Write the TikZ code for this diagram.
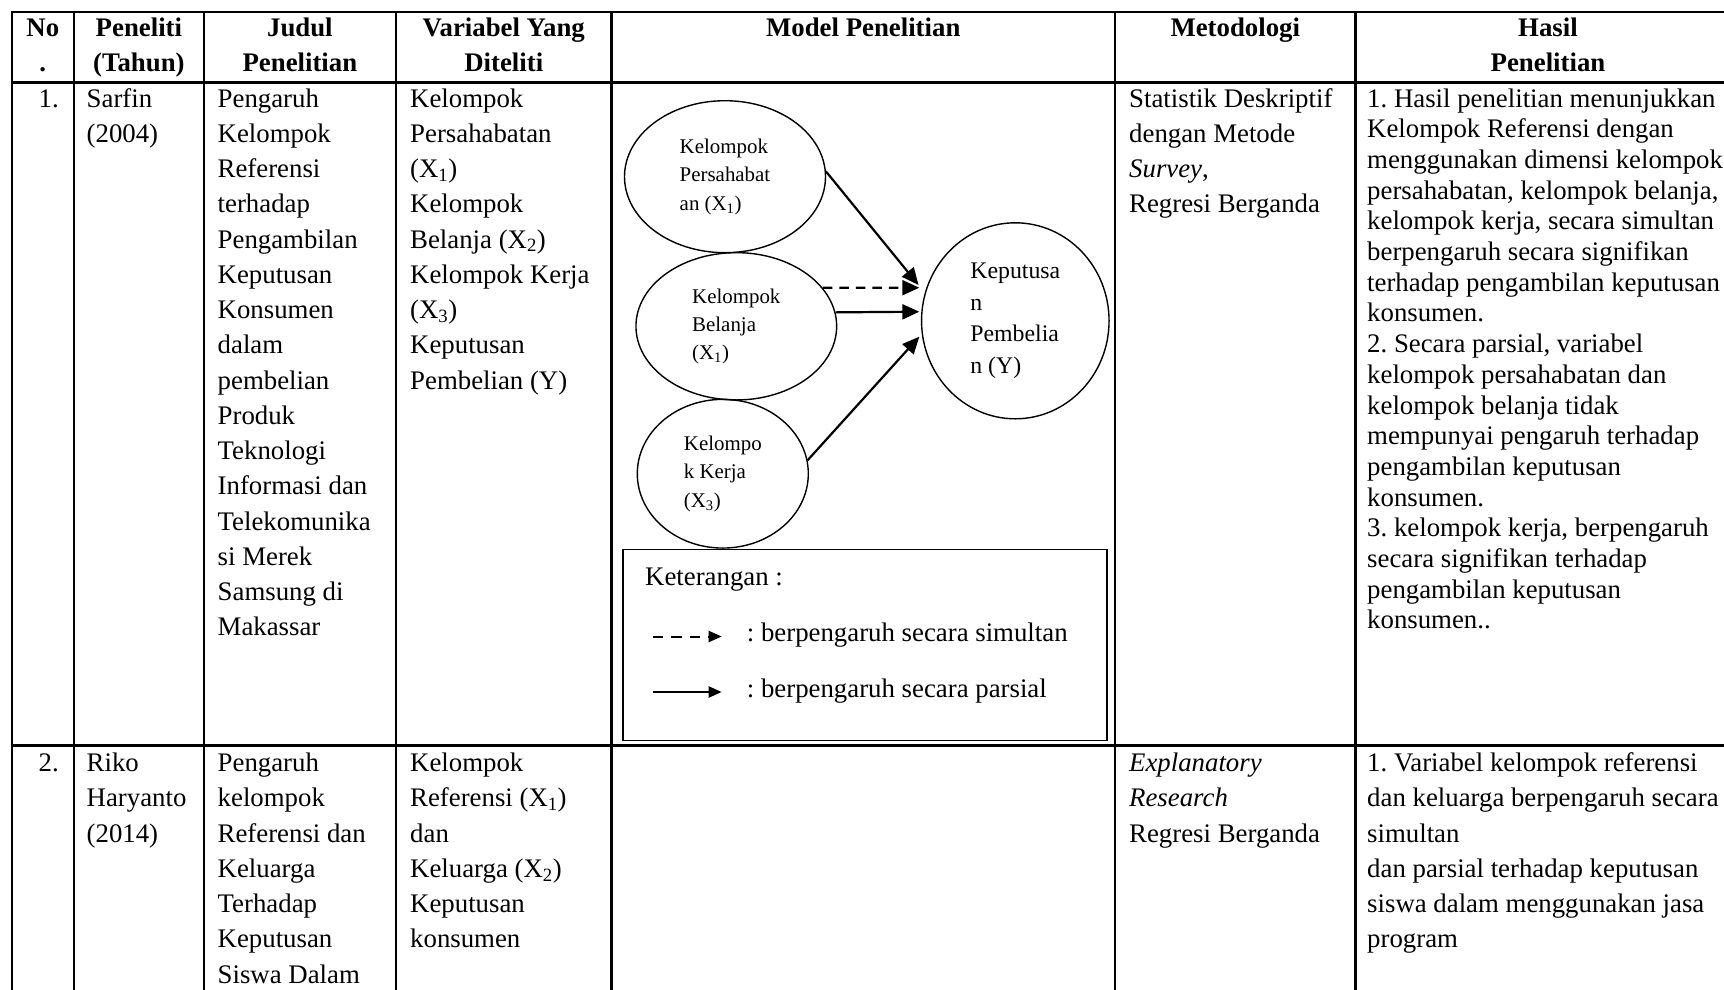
\documentclass[tikz,border=0pt]{standalone}
\usepackage{fontspec}
\setmainfont{Liberation Serif}
\usetikzlibrary{shapes.geometric,arrows.meta}
\frenchspacing

% multi-line cell text; the node baseline is the baseline of the first line
\newcommand{\celltext}[1]{\parbox[t]{600pt}{\raggedright #1}}
\newcommand{\headtext}[2]{\parbox[t]{#1}{\centering #2}}

\begin{document}
\begin{tikzpicture}[x=1pt,y=-1pt,
  grid/.style={line width=2.2pt, line cap=rect},
  body/.style={anchor=base west, inner sep=0pt, font={\fontsize{26.8}{35.25}\selectfont}},
  tight/.style={anchor=base west, inner sep=0pt, font={\fontsize{26.8}{30.7}\selectfont}},
  head/.style={anchor=base, inner sep=0pt, font={\fontsize{26.8}{35}\selectfont\bfseries}},
  var/.style={ellipse, draw, line width=1.4pt, inner sep=0pt, align=left,
    font={\fontsize{20.9}{28.3}\selectfont}},
  link/.style={line width=2.2pt, -{Triangle[length=17pt,width=15pt]}},
  keyline/.style={line width=2pt, -{Triangle[length=13pt,width=11pt]}},
  keybox/.style={draw, line width=1.8pt, inner sep=0pt}
]
\useasboundingbox (0,0) rectangle (1724,989);
\clip (0,0) rectangle (1724,989);

% table rules
\draw[grid] (11.7,11.7) -- (1740,11.7);
\draw[grid] (11.7,82.5) -- (1740,82.5);
\draw[grid] (11.7,745.5) -- (1740,745.5);
\foreach \cx in {11.7,74,203.8,396,611.5,1115,1355.5}
  \draw[grid] (\cx,11.7) -- (\cx,1000);

% header row
\node[head] (hNo)  at (42.85,36.7)  {\headtext{60pt}{No\\.}};
\node[head] (hPen) at (138.9,36.7)  {\headtext{128pt}{Peneliti\\(Tahun)}};
\node[head] (hJud) at (299.9,36.7)  {\headtext{190pt}{Judul\\Penelitian}};
\node[head] (hVar) at (503.75,36.7) {\headtext{214pt}{Variabel Yang\\Diteliti}};
\node[head] (hMod) at (863.25,36.7) {Model Penelitian};
\node[head] (hMet) at (1235.25,36.7) {Metodologi};
\node[head] (hHas) at (1548,36.7)   {\headtext{300pt}{Hasil\\Penelitian}};

% row 1
\node[body] (n1) at (38.5,107) {1.};
\node[body] (p1) at (86.5,107) {\celltext{Sarfin\\(2004)}};
\node[body] (j1) at (217.5,107) {\celltext{Pengaruh\\Kelompok\\Referensi\\terhadap\\Pengambilan\\Keputusan\\Konsumen\\dalam\\pembelian\\Produk\\Teknologi\\Informasi dan\\Telekomunika\\si Merek\\Samsung di\\Makassar}};
\node[body] (v1) at (410,107) {\celltext{Kelompok\\Persahabatan\\(X\textsubscript{1})\\Kelompok\\Belanja (X\textsubscript{2})\\Kelompok Kerja\\(X\textsubscript{3})\\Keputusan\\Pembelian (Y)}};
\node[body] (m1) at (1129,107) {\celltext{Statistik Deskriptif\\dengan Metode\\\textit{Survey},\\Regresi Berganda}};
\node[tight] (h1) at (1367,107) {\celltext{1. Hasil penelitian menunjukkan\\Kelompok Referensi dengan\\menggunakan dimensi kelompok\\persahabatan, kelompok belanja,\\kelompok kerja, secara simultan\\berpengaruh secara signifikan\\terhadap pengambilan keputusan\\konsumen.\\2. Secara parsial, variabel\\kelompok persahabatan dan\\kelompok belanja tidak\\mempunyai pengaruh terhadap\\pengambilan keputusan\\konsumen.\\3. kelompok kerja, berpengaruh\\secara signifikan terhadap\\pengambilan keputusan\\konsumen..}};

% research model
\node[var, minimum width=201pt, minimum height=152pt] (E1) at (725,176.7)
  {Kelompok\\Persahabat\\an (X\textsubscript{1})};
\node[var, minimum width=200.7pt, minimum height=147.3pt] (E2) at (736.3,326.3)
  {Kelompok\\Belanja\\(X\textsubscript{1})};
\node[var, minimum width=171pt, minimum height=148.7pt] (E3) at (722.8,473.7)
  {Kelompo\\k Kerja\\(X\textsubscript{3})};
\node[var, minimum width=187.5pt, minimum height=196pt,
  font={\fontsize{23.8}{31.4}\selectfont}] (Y) at (1015.3,320.8)
  {Keputusa\\n\\Pembelia\\n (Y)};

\coordinate (tA) at (918.5,285);
\coordinate (tB) at (919.3,287.7);
\coordinate (tC) at (919.3,311.7);
\coordinate (tD) at (919.3,336.7);
\draw[link] (E1.3) -- (tA);
\draw[link, dash pattern=on 9.5pt off 7pt] (E2.24) -- (tB);
\draw[link] (E2.8) -- (tC);
\draw[link] (E3.9) -- (tD);

% legend
\node[keybox, minimum width=484pt, minimum height=191pt] (key) at (864.7,645) {};
\node[body] (keyT) at (645,585) {Keterangan :};
\coordinate (d0) at (652.7,636.5);
\coordinate (d1) at (721.7,636.5);
\draw[keyline, dash pattern=on 10.5pt off 8pt] (d0) -- (d1);
\node[body] (dT) at (746.7,641.5) {: berpengaruh secara simultan};
\coordinate (s0) at (652.7,692);
\coordinate (s1) at (721.7,692);
\draw[keyline] (s0) -- (s1);
\node[body] (sT) at (746.7,697) {: berpengaruh secara parsial};

% row 2
\node[body] (n2) at (38.5,771.7) {2.};
\node[body] (p2) at (86.5,771.7) {\celltext{Riko\\Haryanto\\(2014)}};
\node[body] (j2) at (217.5,771.7) {\celltext{Pengaruh\\kelompok\\Referensi dan\\Keluarga\\Terhadap\\Keputusan\\Siswa Dalam}};
\node[body] (v2) at (410,771.7) {\celltext{Kelompok\\Referensi (X\textsubscript{1})\\dan\\Keluarga (X\textsubscript{2})\\Keputusan\\konsumen}};
\node[body] (m2) at (1129,771.7) {\celltext{\textit{Explanatory}\\\textit{Research}\\Regresi Berganda}};
\node[body] (h2) at (1367,771.7) {\celltext{1. Variabel kelompok referensi\\dan keluarga berpengaruh secara\\simultan\\dan parsial terhadap keputusan\\siswa dalam menggunakan jasa\\program}};
\end{tikzpicture}
\end{document}
